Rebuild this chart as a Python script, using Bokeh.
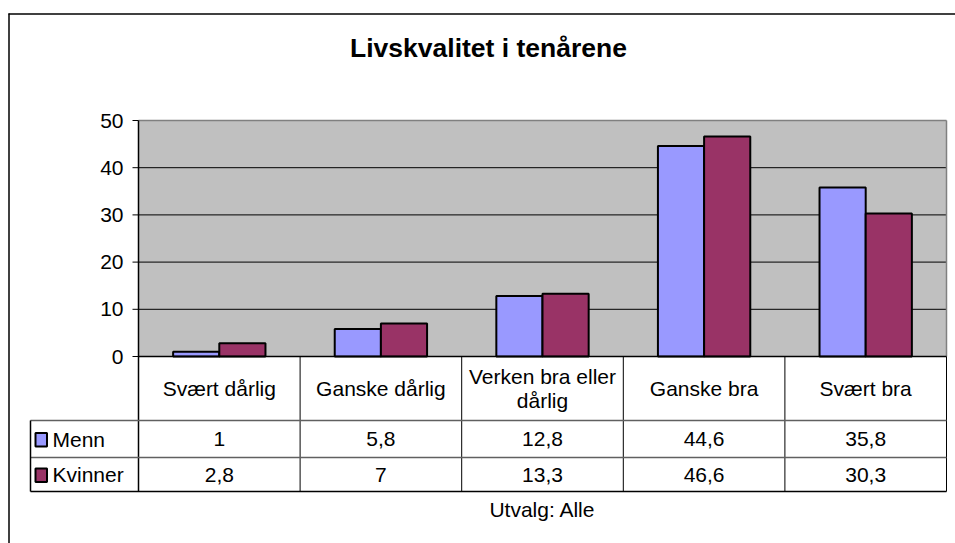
from bokeh.plotting import figure
from bokeh.models import Range1d
from bokeh.core.properties import value
from bokeh.embed import file_html
from bokeh.resources import INLINE

# ---- data ----
chart_title = "Livskvalitet i tenårene"
categories = ["Svært dårlig", "Ganske dårlig", "Verken bra eller\ndårlig", "Ganske bra", "Svært bra"]
series_names = ["Menn", "Kvinner"]
menn = [1, 5.8, 12.8, 44.6, 35.8]
kvinner = [2.8, 7, 13.3, 46.6, 30.3]
y_ticks = [0, 10, 20, 30, 40, 50]
axis_title = "Utvalg: Alle"
colors = ["#9999FF", "#993366"]

# ---- layout (page pixels) ----
W, H = 955, 543
OX, OY = 0, 0
PL, PR, PT, PB = 138, 946, 120, 356
n = len(categories)
y_max = y_ticks[-1]
sx = (PR - PL) / n
sy = (PB - PT) / y_max


def X(px):
    return (px - PL) / sx


def Y(py):
    return (PB - py) / sy


FONT = value("Liberation Sans")
FS = "21px"

p = figure(width=W, height=H,
           x_range=Range1d(X(OX), X(OX + W)), y_range=Range1d(Y(OY + H), Y(OY)),
           output_backend="svg", toolbar_location=None,
           x_axis_location=None, y_axis_location=None,
           min_border=0, min_border_left=0, min_border_right=0,
           min_border_top=0, min_border_bottom=0)
p.grid.visible = False
p.outline_line_color = None
p.background_fill_color = "white"
p.border_fill_color = "white"

# outer chart border
p.segment(x0=[X(8.5), X(8)], y0=[Y(13), Y(13.5)], x1=[X(8.5), X(960)], y1=[Y(560), Y(13.5)],
          line_color="black", line_width=1.5)

# plot area background
p.quad(left=[0], right=[n], bottom=[0], top=[y_max], fill_color="#C0C0C0", line_color=None)

# gridlines
inner = y_ticks[1:-1]
p.segment(x0=[0] * len(inner), x1=[n] * len(inner), y0=inner, y1=inner,
          line_color="black", line_width=1)
# top and right border of plot area (gray)
p.segment(x0=[0, n], y0=[y_max, 0], x1=[n, n], y1=[y_max, y_max],
          line_color="#808080", line_width=1.5)

# bars
bw = 1 / 3.5
xs = [i + 0.5 for i in range(n)]
p.vbar(x=[x - bw / 2 for x in xs], width=bw, top=menn, bottom=0,
       fill_color=colors[0], line_color="black", line_width=2)
p.vbar(x=[x + bw / 2 for x in xs], width=bw, top=kvinner, bottom=0,
       fill_color=colors[1], line_color="black", line_width=2)

# y axis line and ticks
p.segment(x0=[0], y0=[Y(491)], x1=[0], y1=[y_max], line_color="black", line_width=1.5)
p.segment(x0=[X(132)] * len(y_ticks), x1=[0] * len(y_ticks), y0=y_ticks, y1=y_ticks,
          line_color="black", line_width=1)
p.segment(x0=[0], y0=[0], x1=[n], y1=[0], line_color="black", line_width=1.5)
p.text(x=[X(123)] * len(y_ticks), y=y_ticks, text=[str(t) for t in y_ticks],
       text_align="right", text_baseline="middle", text_font=FONT, text_font_size=FS,
       text_color="black")

# data table lines
p.segment(x0=list(range(1, n + 1)), x1=list(range(1, n + 1)),
          y0=[0] * n, y1=[Y(491)] * n, line_color="black", line_width=1)
row_lines = [Y(420), Y(457)]
p.segment(x0=[X(30)] * 2, x1=[n] * 2, y0=row_lines, y1=row_lines,
          line_color="#606060", line_width=1.5)
p.segment(x0=[X(30)], x1=[n], y0=[Y(491)], y1=[Y(491)], line_color="black", line_width=1.5)
p.segment(x0=[X(30)], x1=[X(30)], y0=[Y(420)], y1=[Y(491)], line_color="black", line_width=1.5)

# category labels
p.text(x=xs, y=[Y(388)] * n, text=categories, text_align="center", text_baseline="middle",
       text_font=FONT, text_font_size=FS, text_color="black", text_line_height=1.05)


def fmt(v):
    return f"{v:g}".replace(".", ",")


row_y = [Y(438.5), Y(474)]
for vals, ry in zip([menn, kvinner], row_y):
    p.text(x=xs, y=[ry] * n, text=[fmt(v) for v in vals], text_align="center",
           text_baseline="middle", text_font=FONT, text_font_size=FS, text_color="black")

# legend keys in table
key_top = [Y(432.5), Y(468)]
key_bot = [Y(446), Y(481.5)]
p.quad(left=[X(35)] * 2, right=[X(46.5)] * 2, top=key_top, bottom=key_bot,
       fill_color=colors, line_color="black", line_width=2)
p.text(x=[X(52)] * 2, y=row_y, text=series_names, text_align="left", text_baseline="middle",
       text_font=FONT, text_font_size=FS, text_color="black")

# title and axis title
p.text(x=[X(488)], y=[Y(47)], text=[chart_title], text_align="center", text_baseline="middle",
       text_font=FONT, text_font_size="26.5px", text_font_style="bold", text_color="black")
p.text(x=[n / 2], y=[Y(509)], text=[axis_title], text_align="center", text_baseline="middle",
       text_font=FONT, text_font_size=FS, text_color="black")

open("out.html", "w").write(file_html(p, INLINE))
